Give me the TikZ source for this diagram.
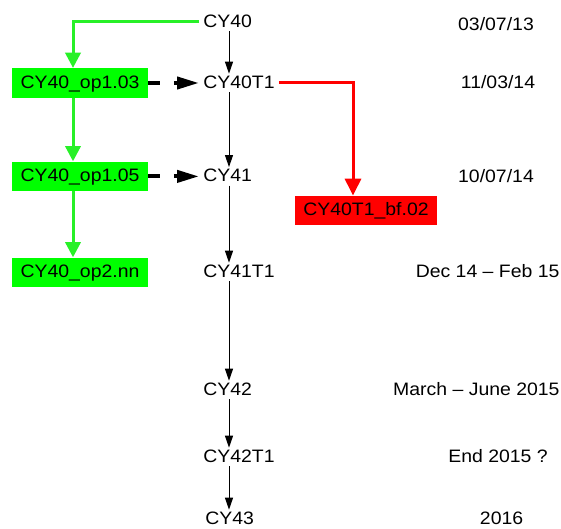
\documentclass[tikz,border=0pt]{standalone}
\usepackage{fontspec}
\setmainfont{Liberation Sans}[FakeStretch=1.08]
\usepackage{tikz}
\usetikzlibrary{arrows.meta}
\definecolor{optgreen}{RGB}{0,255,0}
\definecolor{optline}{RGB}{40,240,40}
\definecolor{fixred}{RGB}{255,0,0}

\begin{document}
\begin{tikzpicture}[
  every node/.style={font=\fontsize{12.8pt}{15pt}\selectfont, text height=0.716em, text depth=0pt, inner sep=0.1cm},
  release/.style={anchor=west},
  option/.style={fill=optgreen, minimum width=3.4cm, minimum height=0.74cm},
  bugfix/.style={fill=fixred, minimum width=3.55cm, minimum height=0.73cm},
  mainarrow/.style={-{Triangle[length=0.3cm,width=0.2cm]}, line width=0.025cm},
  optarrow/.style={-{Triangle[length=0.38cm,width=0.38cm]}, optline, line width=0.075cm},
  fixarrow/.style={-{Triangle[length=0.42cm,width=0.4cm]}, fixred, line width=0.075cm},
  mergearrow/.style={-{Triangle[length=0.55cm,width=0.3cm]}, line width=0.1cm, dash pattern=on 0.3cm off 0.34cm}
]
\useasboundingbox (0cm,0cm) rectangle (14.025cm,-13.225cm);
\coordinate (spine) at (5.725cm,0cm);
\coordinate (optaxis) at (1.825cm,0cm);
\coordinate (fixaxis) at (8.825cm,0cm);

\node[release] (cy40) at (4.975cm,-0.55cm) {CY40};
\node[release] (cy40t1) at (4.975cm,-2.075cm) {CY40T1};
\node[release] (cy41) at (4.975cm,-4.41cm) {CY41};
\node[release] (cy41t1) at (4.975cm,-6.8cm) {CY41T1};
\node[release] (cy42) at (4.975cm,-9.75cm) {CY42};
\node[release] (cy42t1) at (4.975cm,-11.425cm) {CY42T1};
\node[release] (cy43) at (5.025cm,-12.975cm) {CY43};

\node (date40) at (12.4cm,-0.625cm) {03/07/13};
\node (date40t1) at (12.45cm,-2.075cm) {11/03/14};
\node (date41) at (12.4cm,-4.425cm) {10/07/14};
\node (date41t1) at (12.19cm,-6.8cm) {Dec 14 -- Feb 15};
\node (date42) at (11.91cm,-9.75cm) {March -- June 2015};
\node (date42t1) at (12.45cm,-11.425cm) {End 2015 ?};
\node (date43) at (12.54cm,-12.975cm) {2016};

\node[option] (op103) at (2cm,-2.075cm) {CY40\_op1.03};
\node[option] (op105) at (2cm,-4.41cm) {CY40\_op1.05};
\node[option] (op2nn) at (2cm,-6.81cm) {CY40\_op2.nn};
\node[bugfix] (bf02) at (9.15cm,-5.26cm) {CY40T1\_bf.02};

\foreach \a/\b in {cy40/cy40t1, cy40t1/cy41, cy41/cy41t1, cy41t1/cy42, cy42/cy42t1, cy42t1/cy43}
  \draw[mainarrow] (\a.south -| spine) -- (\b.north -| spine);

\draw[optarrow] (cy40.west) -| (op103.north -| optaxis);
\draw[optarrow] (op103.south -| optaxis) -- (op105.north -| optaxis);
\draw[optarrow] (op105.south -| optaxis) -- (op2nn.north -| optaxis);

\draw[mergearrow] (op103.east) -- (cy40t1.west);
\draw[mergearrow] (op105.east) -- (cy41.west);

\draw[fixarrow] (cy40t1.east) -| (bf02.north -| fixaxis);
\end{tikzpicture}
\end{document}
